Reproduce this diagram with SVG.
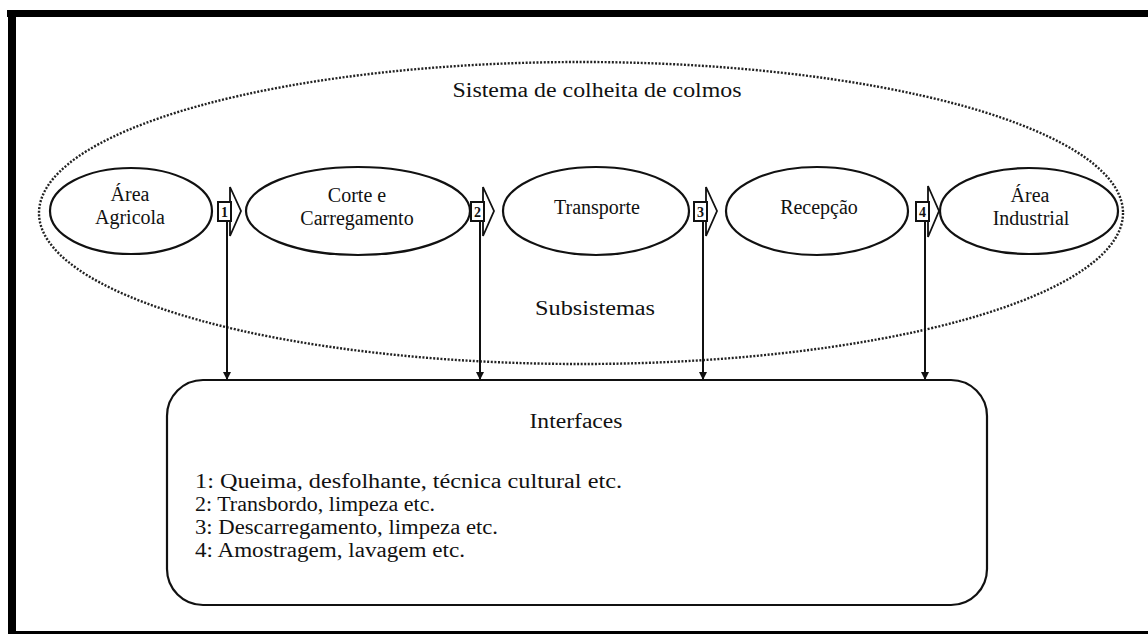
<svg xmlns="http://www.w3.org/2000/svg" width="1148" height="634" viewBox="0 0 1148 634">
<style>
  .t { font-family: "Liberation Serif", "Times New Roman", serif; font-size: 20px; fill: #111; text-anchor: middle; }
  .tl { font-family: "Liberation Serif", "Times New Roman", serif; font-size: 20px; fill: #111; }
  .num { font-family: "Liberation Serif", "Times New Roman", serif; font-size: 14px; font-weight: bold; fill: #111; text-anchor: middle; }
  .node { fill: #fff; stroke: #111; stroke-width: 2.2; }
  .frame { fill: #000; }
  .sys { fill: none; stroke: #222; stroke-width: 2.4; stroke-dasharray: 2 1.6; }
  .conn { stroke: #111; stroke-width: 2; fill: none; }
  .sq { fill: #fff; stroke: #111; stroke-width: 2; }
  .chev { fill: #fff; stroke: #111; stroke-width: 1.8; stroke-linejoin: miter; }
</style>
<defs>
  <marker id="ah" viewBox="0 0 10 10" refX="10" refY="5" markerWidth="4" markerHeight="4" orient="auto" markerUnits="strokeWidth">
    <path d="M0,0 L10,5 L0,10 Z" fill="#111"/>
  </marker>
</defs>
<rect width="1148" height="634" fill="#fff"/>
<g id="frame">
  <rect class="frame" x="7" y="10" width="1141" height="7"/>
  <rect class="frame" x="8" y="10" width="8" height="624"/>
  <rect class="frame" x="8" y="631" width="1140" height="3"/>
</g>
<g id="sistema">
  <ellipse class="sys" cx="581" cy="213" rx="542" ry="151"/>
  <text class="t" x="597" y="97" textLength="289" lengthAdjust="spacingAndGlyphs">Sistema de colheita de colmos</text>
  <text class="t" x="595" y="315" textLength="120" lengthAdjust="spacingAndGlyphs">Subsistemas</text>
</g>
<g id="connectors">
  <line class="conn" x1="227" y1="221" x2="227" y2="380" marker-end="url(#ah)"/>
  <line class="conn" x1="480" y1="221" x2="480" y2="380" marker-end="url(#ah)"/>
  <line class="conn" x1="703" y1="221" x2="703" y2="380" marker-end="url(#ah)"/>
  <line class="conn" x1="925" y1="221" x2="925" y2="380" marker-end="url(#ah)"/>
</g>
<g id="area-agricola">
  <ellipse class="node" cx="131" cy="211" rx="81" ry="43"/>
  <text class="t" x="130" y="201">Área</text>
  <text class="t" x="130" y="224">Agricola</text>
</g>
<g id="corte-carregamento">
  <ellipse class="node" cx="358" cy="211" rx="112" ry="44"/>
  <text class="t" x="357" y="202">Corte e</text>
  <text class="t" x="357" y="225">Carregamento</text>
</g>
<g id="transporte">
  <ellipse class="node" cx="596" cy="211" rx="93" ry="44"/>
  <text class="t" x="597" y="214">Transporte</text>
</g>
<g id="recepcao">
  <ellipse class="node" cx="817" cy="211" rx="91" ry="44"/>
  <text class="t" x="819" y="214">Recepção</text>
</g>
<g id="area-industrial">
  <ellipse class="node" cx="1029" cy="211" rx="89" ry="43"/>
  <text class="t" x="1030" y="202">Área</text>
  <text class="t" x="1031" y="225">Industrial</text>
</g>
<g id="interface-1">
  <path class="chev" d="M230,187 L241,211 L230,236 Z"/>
  <rect class="sq" x="218" y="202" width="13" height="19"/>
  <text class="num" x="224.5" y="217">1</text>
</g>
<g id="interface-2">
  <path class="chev" d="M483,187 L494,211 L483,236 Z"/>
  <rect class="sq" x="471" y="202" width="13" height="19"/>
  <text class="num" x="477.5" y="217">2</text>
</g>
<g id="interface-3">
  <path class="chev" d="M706,187 L717,211 L706,236 Z"/>
  <rect class="sq" x="694" y="202" width="13" height="19"/>
  <text class="num" x="700.5" y="217">3</text>
</g>
<g id="interface-4">
  <path class="chev" d="M928,186 L939,211 L928,237 Z"/>
  <rect class="sq" x="916" y="202" width="13" height="19"/>
  <text class="num" x="922.5" y="217">4</text>
</g>
<g id="interfaces">
  <rect class="node" x="167" y="380" width="820" height="225" rx="36" ry="36" stroke-width="2.5"/>
  <text class="t" x="576" y="428" textLength="93" lengthAdjust="spacingAndGlyphs">Interfaces</text>
  <text class="tl" x="195" y="488" textLength="427" lengthAdjust="spacingAndGlyphs">1: Queima, desfolhante, técnica cultural etc.</text>
  <text class="tl" x="195" y="511" textLength="240" lengthAdjust="spacingAndGlyphs">2: Transbordo, limpeza etc.</text>
  <text class="tl" x="195" y="534" textLength="303" lengthAdjust="spacingAndGlyphs">3: Descarregamento, limpeza etc.</text>
  <text class="tl" x="195" y="557" textLength="270" lengthAdjust="spacingAndGlyphs">4: Amostragem, lavagem etc.</text>
</g>
</svg>
